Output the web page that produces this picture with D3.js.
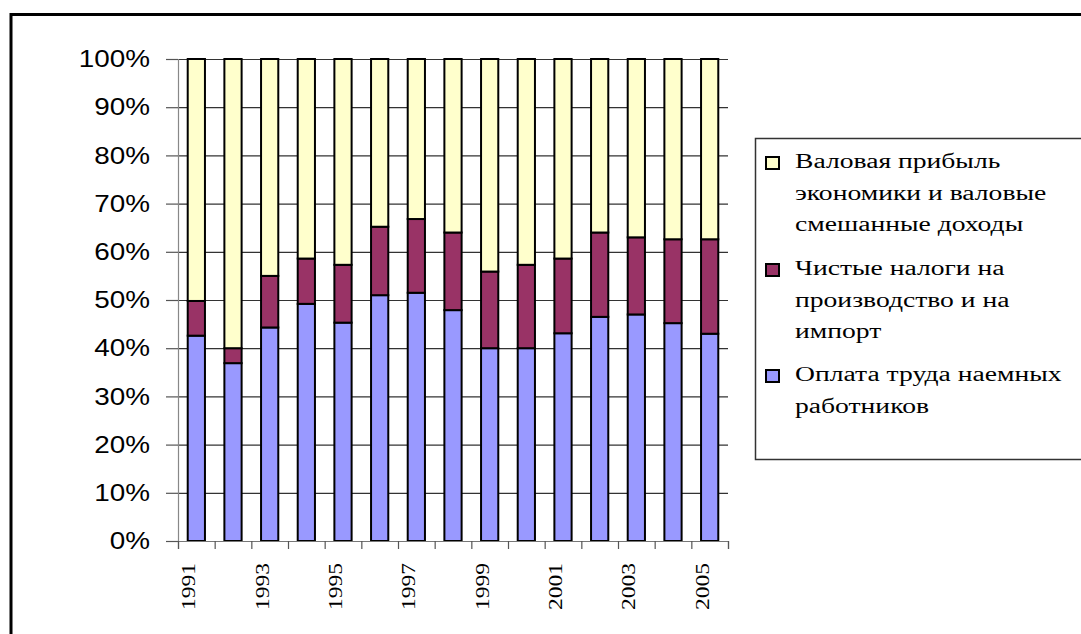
<!DOCTYPE html>
<html lang="ru">
<head>
<meta charset="UTF-8">
<script src="https://cdnjs.cloudflare.com/ajax/libs/d3/7.8.5/d3.min.js"></script>
<style>
  body { margin: 0; background: #fff; }
  svg { display: block; }
</style>
</head>
<body>
<div id="chart"></div>
<script>
  const years = [1991, 1992, 1993, 1994, 1995, 1996, 1997, 1998, 1999, 2000, 2001, 2002, 2003, 2004, 2005];
  // shares, %
  const wages = [42.6, 36.9, 44.3, 49.2, 45.3, 51.0, 51.5, 47.9, 40.0, 40.0, 43.1, 46.5, 47.0, 45.2, 43.0];
  const taxes = [7.2, 3.1, 10.7, 9.4, 12.0, 14.2, 15.3, 16.1, 15.9, 17.3, 15.5, 17.5, 16.0, 17.4, 19.6];
  const profit = [50.2, 60.0, 45.0, 41.4, 42.7, 34.8, 33.2, 36.0, 44.1, 42.7, 41.4, 36.0, 37.0, 37.4, 37.4];
  const yTicks = [0, 10, 20, 30, 40, 50, 60, 70, 80, 90, 100];
  const seriesKeys = ['wages', 'taxes', 'profit'];
  const seriesColors = { wages: '#9999ff', taxes: '#993366', profit: '#ffffcc' };
  const legendItems = [
    { key: 'profit', lines: ['Валовая прибыль', 'экономики и валовые', 'смешанные доходы'] },
    { key: 'taxes', lines: ['Чистые налоги на', 'производство и на', 'импорт'] },
    { key: 'wages', lines: ['Оплата труда наемных', 'работников'] }
  ];

  const width = 1081, height = 634;
  const plotLeft = 178, plotRight = 728, plotTop = 59, plotBottom = 541;
  const serif = "'Liberation Serif', 'Times New Roman', serif";
  const sans = "'Liberation Sans', Arial, sans-serif";

  // text in the original is stretched sideways
  function stretch(sel, k) {
    sel.each(function () {
      const len = this.getComputedTextLength();
      d3.select(this).attr('textLength', len * k).attr('lengthAdjust', 'spacingAndGlyphs');
    });
  }

  const data = years.map((y, i) => ({ year: y, wages: wages[i], taxes: taxes[i], profit: profit[i] }));
  const stacked = d3.stack().keys(seriesKeys)(data);

  const svg = d3.select('#chart').append('svg')
    .attr('width', width)
    .attr('height', height);

  // outer frame
  svg.append('rect')
    .attr('x', 11).attr('y', 14.5)
    .attr('width', 1100).attr('height', 700)
    .attr('fill', 'none')
    .attr('stroke', '#000')
    .attr('stroke-width', 3);

  const x = d3.scaleBand().domain(years).range([plotLeft, plotRight]).paddingInner(0.53).paddingOuter(0.265);
  const xEdge = d3.scaleLinear().domain([0, years.length]).range([plotLeft, plotRight]);
  const y = d3.scaleLinear().domain([0, 100]).range([plotBottom, plotTop]);

  // grid
  svg.append('g')
    .attr('transform', `translate(${plotLeft},0)`)
    .call(d3.axisLeft(y).tickValues(yTicks).tickSize(-(plotRight - plotLeft)).tickFormat(''))
    .call(g => g.select('.domain').remove())
    .call(g => g.selectAll('line').attr('stroke', '#333').attr('stroke-width', 1.2));

  // y axis
  const yAxis = svg.append('g')
    .attr('transform', `translate(${plotLeft},0)`)
    .call(d3.axisLeft(y).tickValues(yTicks).tickSize(12).tickPadding(16).tickFormat(d => d + '%'))
    .call(g => g.select('.domain').attr('stroke', '#888').attr('stroke-width', 1.2))
    .call(g => g.selectAll('line').attr('stroke', '#555').attr('stroke-width', 1.2));
  yAxis.selectAll('text')
    .style('font-family', sans)
    .style('font-size', '24px')
    .attr('fill', '#000')
    .call(stretch, 1.16);

  // bars
  svg.append('g')
    .selectAll('g')
    .data(stacked)
    .join('g')
    .attr('fill', s => seriesColors[s.key])
    .selectAll('rect')
    .data(s => s)
    .join('rect')
    .attr('x', d => x(d.data.year))
    .attr('y', d => y(d[1]))
    .attr('width', x.bandwidth())
    .attr('height', d => y(d[0]) - y(d[1]))
    .attr('stroke', '#000')
    .attr('stroke-width', 2);

  // x axis: ticks on category edges
  svg.append('g')
    .attr('transform', `translate(0,${plotBottom})`)
    .call(d3.axisBottom(xEdge).tickValues(d3.range(years.length + 1)).tickSize(8).tickFormat(''))
    .call(g => g.select('.domain').attr('stroke', '#777').attr('stroke-width', 1.2))
    .call(g => g.selectAll('line').attr('stroke', '#555').attr('stroke-width', 1.2));

  // year labels, every other one
  const xLabels = svg.append('g')
    .attr('transform', `translate(0,${plotBottom})`)
    .call(d3.axisBottom(x).tickValues(years.filter((d, i) => i % 2 === 0)).tickSize(0))
    .call(g => g.select('.domain').remove());
  xLabels.selectAll('text')
    .attr('transform', 'rotate(-90)')
    .attr('text-anchor', 'end')
    .attr('x', -22)
    .attr('y', -1)
    .attr('dy', 0)
    .style('font-family', serif)
    .style('font-size', '19px')
    .attr('fill', '#000')
    .call(stretch, 1.24);

  // legend
  const legend = svg.append('g');
  legend.append('rect')
    .attr('x', 755.5).attr('y', 138.5)
    .attr('width', 400).attr('height', 321)
    .attr('fill', '#fff')
    .attr('stroke', '#333')
    .attr('stroke-width', 1.5);

  const itemTop = [168, 275, 381];
  const lineH = 31.5;
  legendItems.forEach((item, i) => {
    const g = legend.append('g').attr('transform', `translate(766,${itemTop[i]})`);
    g.append('rect')
      .attr('x', 0).attr('y', -11)
      .attr('width', 13).attr('height', 12)
      .attr('fill', seriesColors[item.key])
      .attr('stroke', '#000')
      .attr('stroke-width', 2);
    g.selectAll('text')
      .data(item.lines)
      .join('text')
      .attr('x', 29)
      .attr('y', (d, j) => j * lineH)
      .style('font-family', serif)
      .style('font-size', '20px')
      .attr('fill', '#000')
      .text(d => d)
      .call(stretch, 1.38);
  });
</script>
</body>
</html>
